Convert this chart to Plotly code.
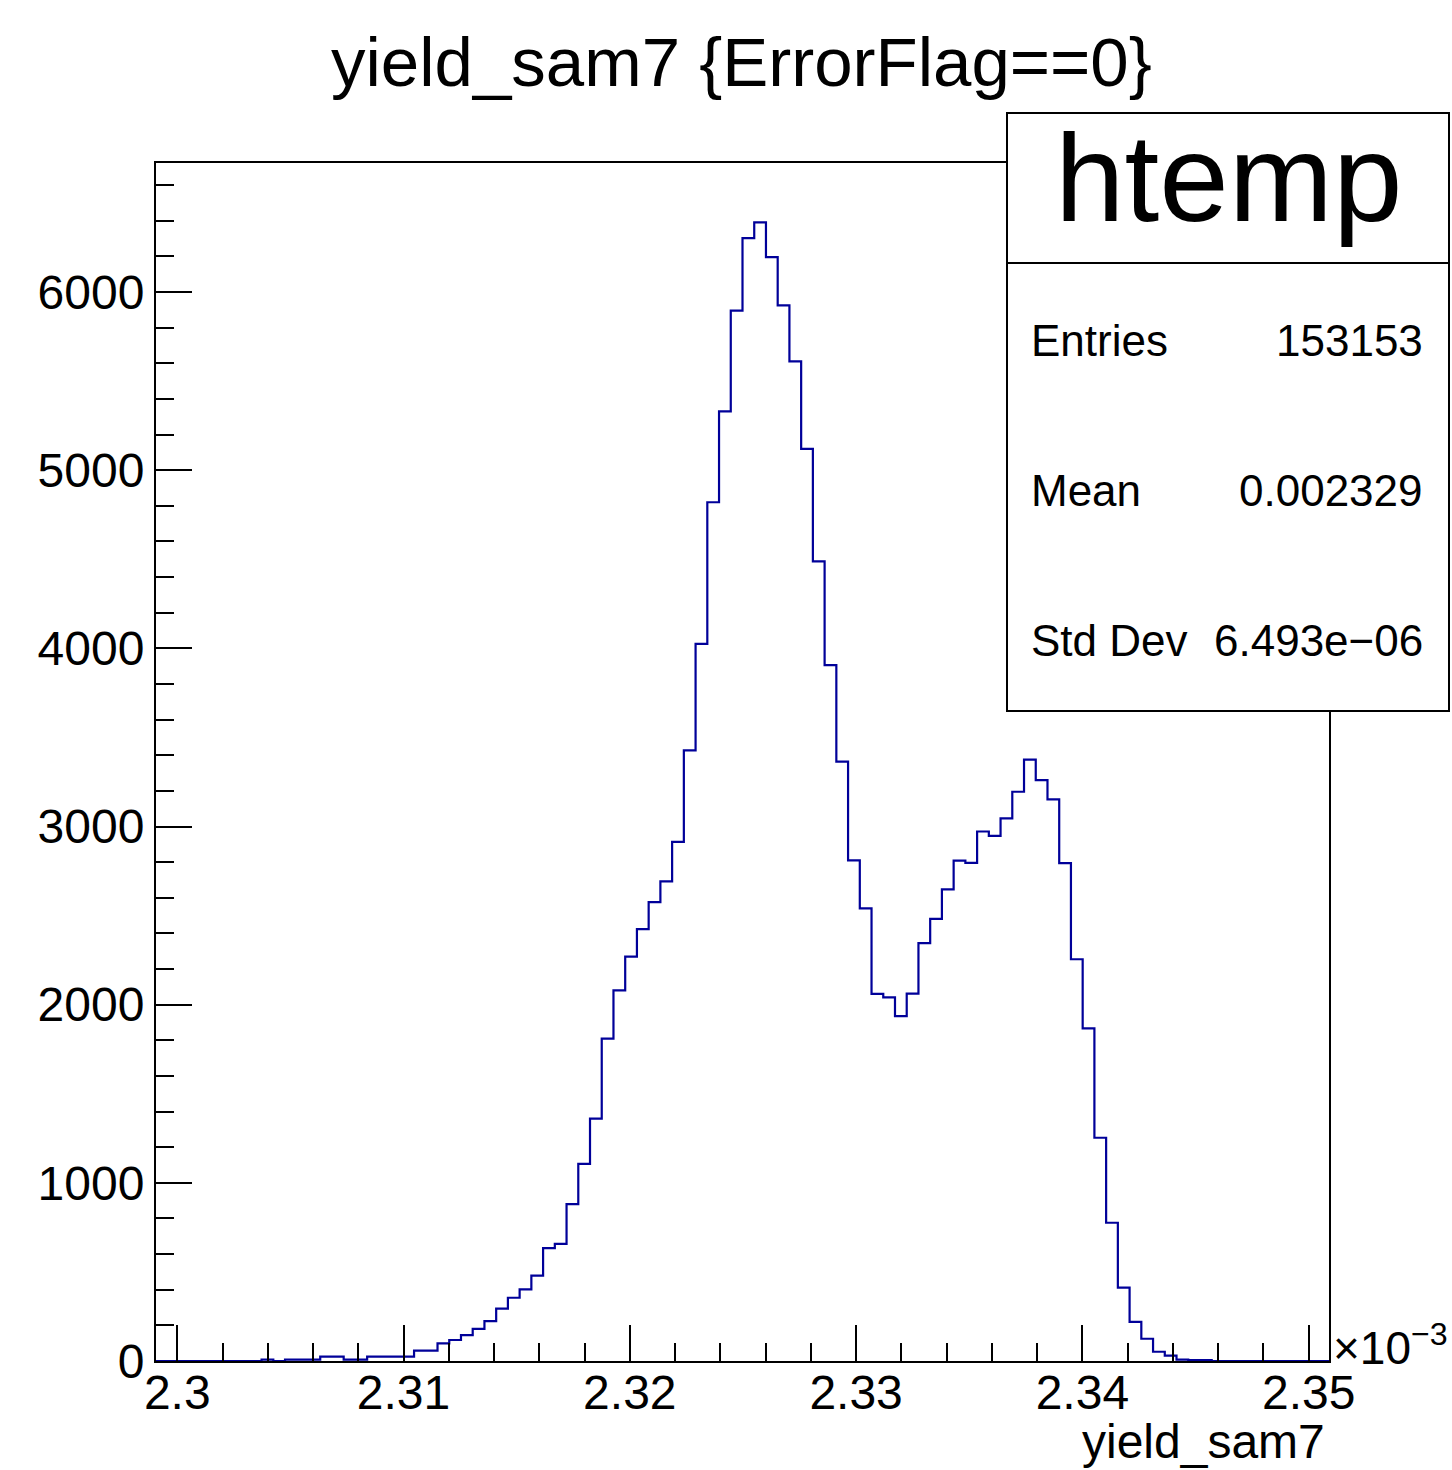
import numpy as np
import plotly.graph_objects as go

# ---------------- data (x in units of 1e-3) ----------------
x_min = 2.29906
x_max = 2.35090
n_bins = 100
counts = [
    0, 0, 0, 0, 0, 0, 0, 0, 0, 8,          # 0-9
    0, 8, 8, 8, 24, 24, 8, 8, 24, 24,       # 10-19
    24, 24, 58, 58, 99, 118, 145, 180, 224, 294,   # 20-29
    355, 402, 479, 634, 657, 881, 1106, 1360, 1809, 2080,  # 30-39
    2270, 2424, 2575, 2692, 2914, 3427, 4025, 4820, 5330, 5895,  # 40-49
    6302, 6391, 6196, 5925, 5611, 5120, 4488, 3906, 3364, 2810,  # 50-59
    2540, 2060, 2041, 1936, 2062, 2345, 2482, 2647, 2809, 2796,  # 60-69
    2972, 2947, 3046, 3195, 3375, 3260, 3152, 2794, 2255, 1867,  # 70-79
    1253, 776, 412, 220, 125, 52, 30, 8, 5, 5,                   # 80-89
    0, 0, 0, 0, 0, 0, 0, 0, 0, 0,                                # 90-99
]
x_tick_vals = [2.30, 2.31, 2.32, 2.33, 2.34, 2.35]
x_tick_text = ["2.3", "2.31", "2.32", "2.33", "2.34", "2.35"]
y_tick_vals = [0, 1000, 2000, 3000, 4000, 5000, 6000]
y_max = 6724

title_text = "yield_sam7 {ErrorFlag==0}"
x_title = "yield_sam7"
stats_name = "htemp"
stats_labels = ["Entries", "Mean", "Std Dev"]
stats_values = ["153153", "0.002329", "6.493e\u221206"]

# ---------------- geometry ----------------
W, H = 1452, 1470
L, R, T, B = 156, 1329, 163, 1361
FONT = "Liberation Sans, Arial, Helvetica, sans-serif"


def px(x, y):
    return (x - L) / (R - L), (B - y) / (B - T)


edges = np.linspace(x_min, x_max, n_bins + 1)
yy = list(counts) + [counts[-1]]

fig = go.Figure()
fig.add_trace(go.Scatter(
    x=edges, y=yy, mode="lines", line_shape="hv",
    line=dict(color="#000099", width=2.2), hoverinfo="skip", showlegend=False,
))

axis_common = dict(
    showgrid=False, zeroline=False, showline=True, linecolor="black",
    linewidth=2, mirror=True, ticks="inside", tickcolor="black",
    tickwidth=2, tickfont=dict(family=FONT, size=48, color="black"),
    layer="above traces",
)

fig.update_xaxes(
    range=[x_min, x_max], tickvals=x_tick_vals, ticktext=x_tick_text,
    ticklen=36,
    minor=dict(ticks="inside", dtick=0.002, tick0=2.30, ticklen=18,
               tickwidth=2, tickcolor="black"),
    ticklabelstandoff=-12,
    **axis_common,
)
fig.update_yaxes(
    range=[0, y_max], tickvals=y_tick_vals, ticklen=36,
    minor=dict(ticks="inside", dtick=200, tick0=0, ticklen=18,
               tickwidth=2, tickcolor="black"),
    ticklabelstandoff=0,
    **axis_common,
)

annotations = []
shapes = []

# title
tx, ty = px(741, 63)
annotations.append(dict(text=title_text, x=tx, y=ty, xref="paper", yref="paper",
                        xanchor="center", yanchor="middle", showarrow=False,
                        font=dict(family=FONT, size=69, color="black")))

# x-axis title
ax, ay = px(1327, 1441)
annotations.append(dict(text=x_title, x=ax, y=ay, xref="paper", yref="paper",
                        xanchor="right", yanchor="middle", showarrow=False,
                        font=dict(family=FONT, size=48, color="black")))

# exponent label
ex, ey = px(1331, 1345)
annotations.append(dict(text="\u00d710<sup>\u22123</sup>", x=ex, y=ey, xref="paper", yref="paper",
                        xanchor="left", yanchor="middle", showarrow=False,
                        font=dict(family=FONT, size=46, color="black")))

# stats box
bx0, by0 = px(1007, 711)
bx1, by1 = px(1449, 113)
shapes.append(dict(type="rect", xref="paper", yref="paper", x0=bx0, y0=by0, x1=bx1, y1=by1,
                   line=dict(color="black", width=2), fillcolor="white", layer="above"))
_, dy = px(0, 263)
shapes.append(dict(type="line", xref="paper", yref="paper", x0=bx0, y0=dy, x1=bx1, y1=dy,
                   line=dict(color="black", width=2), layer="above"))

hx, hy = px(1228, 178)
annotations.append(dict(text=stats_name, x=hx, y=hy, xref="paper", yref="paper",
                        xanchor="center", yanchor="middle", showarrow=False,
                        font=dict(family=FONT, size=125, color="black")))

row_y = [341, 490, 640]
for lab, val, ry in zip(stats_labels, stats_values, row_y):
    lx, ly = px(1029, ry)
    annotations.append(dict(text=lab, x=lx, y=ly, xref="paper", yref="paper",
                            xanchor="left", yanchor="middle", showarrow=False,
                            font=dict(family=FONT, size=44, color="black")))
    vx, vy = px(1425, ry)
    annotations.append(dict(text=val, x=vx, y=vy, xref="paper", yref="paper",
                            xanchor="right", yanchor="middle", showarrow=False,
                            font=dict(family=FONT, size=44, color="black")))

fig.update_layout(
    width=W, height=H,
    margin=dict(l=L, r=W - R, t=T, b=H - B, pad=0),
    paper_bgcolor="white", plot_bgcolor="white",
    annotations=annotations, shapes=shapes,
    showlegend=False,
)

page_css = (
    "document.documentElement.style.margin='0';"
    "document.documentElement.style.overflow='hidden';"
    "document.body.style.margin='0';"
    "document.body.style.padding='0';"
    "document.body.style.overflow='hidden';"
)
fig.write_html("out.html", post_script=page_css,
               config={"displayModeBar": False, "staticPlot": True})
